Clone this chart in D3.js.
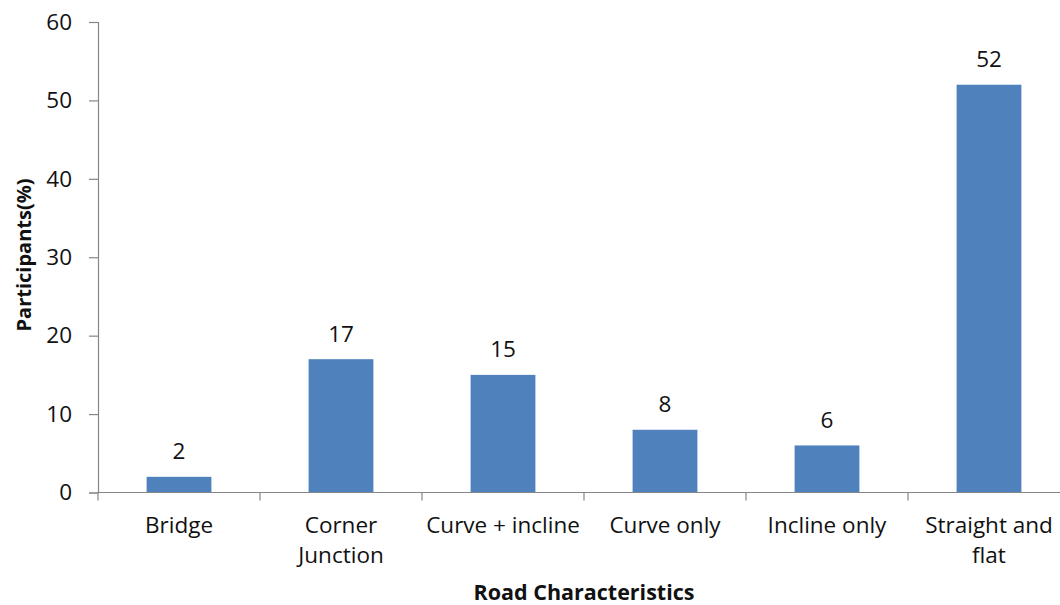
<!DOCTYPE html>
<html>
<head>
<meta charset="utf-8">
<script src="https://cdn.jsdelivr.net/npm/d3@7"></script>
<style>
  html, body { margin: 0; padding: 0; background: #fff; }
  svg { display: block; font-family: "Open Sans", Lato, sans-serif; }
</style>
</head>
<body>
<svg id="chart" width="1060" height="605"></svg>
<script>
// Share of participants by road characteristic
const categories = ["Bridge", "Corner Junction", "Curve + incline", "Curve only", "Incline only", "Straight and flat"];
const categoryLines = [["Bridge"], ["Corner", "Junction"], ["Curve + incline"], ["Curve only"], ["Incline only"], ["Straight and", "flat"]];
const values = [2, 17, 15, 8, 6, 52];
const yTicks = [0, 10, 20, 30, 40, 50, 60];

const svg = d3.select("#chart");
const plot = { left: 98, right: 1070, top: 22, bottom: 492.5 };
const fontFamily = "'Open Sans', Lato, sans-serif";
const labelSize = 22.5;

const x = d3.scaleBand().domain(categories).range([plot.left, plot.right]).paddingInner(0.6).paddingOuter(0.3);
const xEdge = d3.scaleLinear().domain([0, categories.length]).range([plot.left, plot.right]);
const y = d3.scaleLinear().domain([0, 60]).range([plot.bottom, plot.top]);

const axisColor = "#868686";

// bars
svg.append("g").selectAll("rect").data(values).join("rect")
  .attr("x", (d, i) => x(categories[i]))
  .attr("width", x.bandwidth())
  .attr("y", d => y(d))
  .attr("height", d => y(0) - y(d))
  .attr("fill", "#4F81BD");

// y axis
const yAxis = svg.append("g").attr("transform", `translate(${plot.left},0)`)
  .call(d3.axisLeft(y).tickValues(yTicks).tickSize(9).tickPadding(17));
yAxis.select(".domain").attr("stroke", axisColor).attr("stroke-width", 1.2);
yAxis.selectAll(".tick line").attr("stroke", axisColor).attr("stroke-width", 1.2);
yAxis.selectAll(".tick text").attr("font-size", labelSize).attr("fill", "#111")
  .attr("font-family", fontFamily);

// x axis line and category dividers
const xg = svg.append("g");
xg.append("line").attr("x1", plot.left).attr("x2", plot.right).attr("y1", y(0)).attr("y2", y(0))
  .attr("stroke", axisColor).attr("stroke-width", 1.2);
xg.selectAll("line.div").data(d3.range(categories.length + 1)).join("line")
  .attr("class", "div")
  .attr("x1", i => xEdge(i)).attr("x2", i => xEdge(i))
  .attr("y1", y(0)).attr("y2", y(0) + 8)
  .attr("stroke", axisColor).attr("stroke-width", 1.2);

// category labels
const cx = c => x(c) + x.bandwidth() / 2;
svg.append("g").selectAll("text").data(categories).join("text")
  .attr("x", d => cx(d))
  .attr("y", 533)
  .attr("text-anchor", "middle")
  .attr("font-size", labelSize)
  .attr("fill", "#111")
  .each(function(d, i) {
    d3.select(this).selectAll("tspan").data(categoryLines[i]).join("tspan")
      .attr("x", cx(d))
      .attr("dy", (t, j) => j === 0 ? 0 : 30)
      .text(t => t);
  });

// value labels
svg.append("g").selectAll("text").data(values).join("text")
  .attr("x", (d, i) => cx(categories[i]))
  .attr("y", d => y(d) - 17.5)
  .attr("text-anchor", "middle")
  .attr("font-size", labelSize)
  .attr("fill", "#111")
  .text(d => d);

// axis titles
svg.append("text")
  .attr("x", 584).attr("y", 600)
  .attr("text-anchor", "middle")
  .attr("font-size", 21.5).attr("font-weight", "bold").attr("fill", "#111")
  .text("Road Characteristics");

svg.append("text")
  .attr("transform", `translate(31,255) rotate(-90)`)
  .attr("text-anchor", "middle")
  .attr("font-size", 20).attr("font-weight", "bold").attr("fill", "#111")
  .text("Participants(%)");
</script>
</body>
</html>
